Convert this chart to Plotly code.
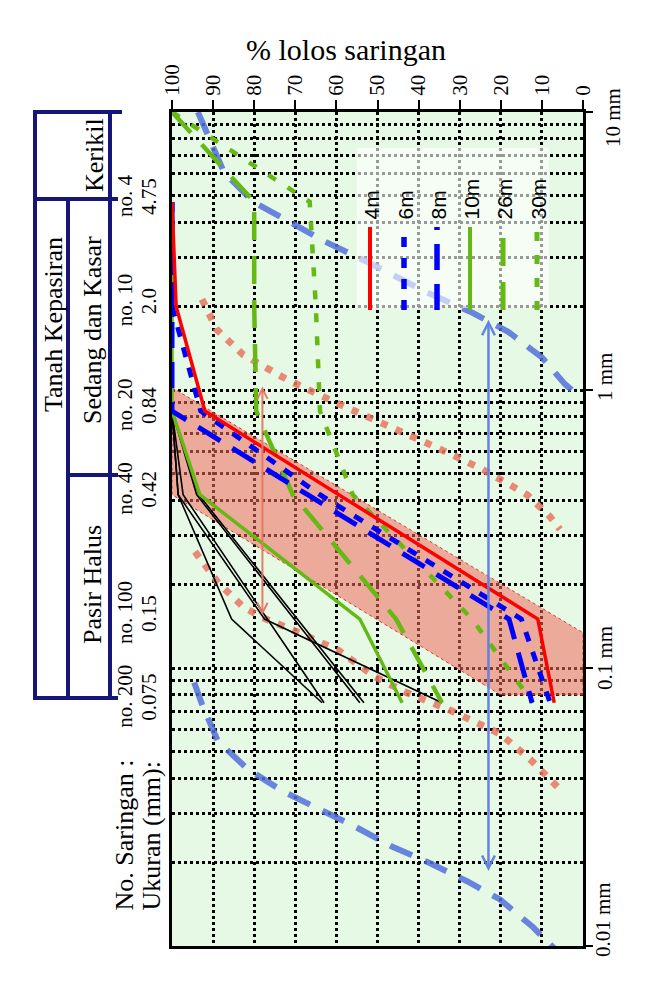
import math
import plotly.graph_objects as go

# ---------------- data ----------------
SIEVE_SIZES = [4.75, 2.0, 0.84, 0.42, 0.15, 0.075]
SIEVE_NUMBERS = ["no. 4", "no. 10", "no. 20", "no. 40", "no. 100", "no. 200"]
SIEVE_SIZE_LABELS = ["4.75", "2.0", "0.84", "0.42", "0.15", "0.075"]

PASS_4M = [100, 99, 92, 59.5, 11, 7]
PASS_6M = [100, 100, 93, 64, 15, 8]
PASS_8M = [100, 100, 100, 67, 18, 12.4]
PASS_10M = [100, 100, 100, 93.2, 54.3, 44]

SIZES_26_30M = [10, 4.75, 2.0, 0.84, 0.42, 0.15, 0.075]
PASS_26M = [100, 80, 80, 79.5, 70.6, 45.5, 34.3]
PASS_30M = [100, 66.5, 65, 64, 56, 27, 12.2]

OTHER_SIZES = [0.84, 0.42, 0.15, 0.075]
OTHER_PASS = [
    [100, 98.5, 85.5, 63.5],
    [100, 98.5, 77.5, 34.3],
    [100, 97.3, 76.8, 63.0],
    [100, 94.0, 70.3, 54.3],
    [100, 93.5, 69.5, 53.3],
]

BAND_SIZES = [1.02, 0.134, 0.08, 0.08, 0.42, 1.02]
BAND_PASS = [100, 0, 0, 20, 100, 100]

LIMIT_A_SIZES = [2.12, 1.65, 1.34, 1.09, 0.91, 0.74, 0.62, 0.52, 0.42, 0.35, 0.315]
LIMIT_A_PASS = [92.7, 89.1, 82.7, 72.0, 60.8, 47.0, 35.5, 24.6, 13.6, 8.0, 5.6]
LIMIT_B_SIZES = [0.262, 0.203, 0.166, 0.152, 0.137, 0.116, 0.093, 0.082, 0.071, 0.058, 0.047, 0.0366]
LIMIT_B_PASS = [94.4, 88.8, 82.7, 78.1, 70.6, 59.6, 50.6, 43.3, 32.8, 20.2, 12.9, 5.6]

ENVELOPE_A_SIZES = [10, 6.05, 4.76, 4.04, 3.42, 3.0, 2.26, 1.90, 1.62, 1.31, 1.05, 0.95]
ENVELOPE_A_PASS = [93.7, 87.3, 80.3, 71.3, 62.8, 54.7, 38.4, 27.0, 18.2, 10.0, 4.4, 1.0]
ENVELOPE_B_SIZES = [0.0887, 0.074, 0.0544, 0.0432, 0.036, 0.0315, 0.0269, 0.0228,
                    0.020, 0.0171, 0.0147, 0.0117, 0.0095]
ENVELOPE_B_PASS = [94.6, 92.7, 88.8, 81.5, 73.0, 64.7, 55.5, 46.5, 37.7, 28.2, 20.2, 12.2, 6.1]

ARROW_BLUE = (23, 1.79, 0.0184)      # % passing, top size, bottom size
ARROW_SALMON = (78, 1.03, 0.153)

PASS_TICKS = list(range(0, 101, 10))
SIZE_TICKS = [0.01, 0.1, 1, 10]
SIZE_TICK_LABELS = ["0.01 mm", "0.1 mm", "1 mm", "10 mm"]
MINOR_SIZE_TICKS = [m * d for d in (0.01, 0.1, 1) for m in range(2, 10)]

LEGEND_NAMES = ["4m", "6m", "8m", "10m", "26m", "30m"]

# ---------------- layout helpers ----------------
W, H = 649, 994
L, R, T, B = 172, 66, 112, 48
PW = W - L - R
PH = H - T - B


def pxx(px):
    return (px - L) / PW


def pxy(py):
    return (H - B - py) / PH


SERIF = "Liberation Serif, Times New Roman, serif"
SANS = "Liberation Sans, Arial, sans-serif"
NAVY = "#15157a"
RED = "#ff0000"
BLUE = "#0000ff"
GREEN = "#66b814"
SALMON = "rgba(232,118,98,0.85)"
LIGHTBLUE = "rgba(82,112,220,0.85)"

STYLE = {
    "4m": dict(color=RED, width=3.5, dash="solid"),
    "6m": dict(color=BLUE, width=5, dash="10px,11px"),
    "8m": dict(color=BLUE, width=5, dash="26px,14px"),
    "10m": dict(color=GREEN, width=3.5, dash="solid"),
    "26m": dict(color=GREEN, width=4.5, dash="28px,16px"),
    "30m": dict(color=GREEN, width=4.5, dash="9px,14px"),
}

fig = go.Figure()

# shaded band
fig.add_trace(go.Scatter(x=BAND_PASS, y=BAND_SIZES, mode="lines", fill="toself",
                         fillcolor="rgba(240,108,92,0.55)",
                         line=dict(color="rgba(215,40,40,0.9)", width=1, dash="dot"),
                         hoverinfo="skip"))

# salmon dotted limits
for xs, ys in ((LIMIT_A_PASS, LIMIT_A_SIZES), (LIMIT_B_PASS, LIMIT_B_SIZES)):
    fig.add_trace(go.Scatter(x=xs, y=ys, mode="lines",
                             line=dict(color=SALMON, width=7, dash="7px,9px")))

# light blue envelopes
for xs, ys in ((ENVELOPE_A_PASS, ENVELOPE_A_SIZES), (ENVELOPE_B_PASS, ENVELOPE_B_SIZES)):
    fig.add_trace(go.Scatter(x=xs, y=ys, mode="lines",
                             line=dict(color=LIGHTBLUE, width=6, dash="24px,14px")))

# black thin lines
for p in OTHER_PASS:
    fig.add_trace(go.Scatter(x=p, y=OTHER_SIZES, mode="lines",
                             line=dict(color="black", width=1.6)))

# main series
SERIES = [
    ("10m", SIEVE_SIZES, PASS_10M),
    ("26m", SIZES_26_30M, PASS_26M),
    ("30m", SIZES_26_30M, PASS_30M),
    ("8m", SIEVE_SIZES, PASS_8M),
    ("6m", SIEVE_SIZES, PASS_6M),
    ("4m", SIEVE_SIZES, PASS_4M),
]
for name, sizes, pas in SERIES:
    fig.add_trace(go.Scatter(x=pas, y=sizes, mode="lines", name=name,
                             line=STYLE[name]))

shapes = []
annotations = []

# legend box + samples
shapes.append(dict(type="rect", xref="paper", yref="paper",
                   x0=pxx(357), x1=pxx(549), y0=pxy(308), y1=pxy(148),
                   fillcolor="rgba(255,255,255,0.6)", line=dict(width=0), layer="above"))
LEG_X = [370, 404, 437, 470, 503, 537]
for name, lx in zip(LEGEND_NAMES, LEG_X):
    st = STYLE[name]
    shapes.append(dict(type="line", xref="paper", yref="paper",
                       x0=pxx(lx), x1=pxx(lx), y0=pxy(310), y1=pxy(227),
                       line=dict(color=st["color"], width=st["width"] + 0.5, dash=st["dash"]),
                       layer="above"))
    annotations.append(dict(text=name, xref="paper", yref="paper", x=pxx(lx + 1), y=pxy(222),
                            xanchor="center", yanchor="bottom", textangle=-90, showarrow=False,
                            font=dict(family=SANS, size=21, color="black")))

# arrows
for (px_, top, bot), col, wd in ((ARROW_BLUE, "rgba(95,125,225,0.95)", 2.5),
                                 (ARROW_SALMON, "rgba(232,118,98,0.95)", 2)):
    annotations.append(dict(x=px_, y=math.log10(top), ax=px_, ay=math.log10(bot),
                            xref="x", yref="y", axref="x", ayref="y", text="",
                            showarrow=True, arrowside="end+start", arrowhead=5,
                            startarrowhead=5, arrowsize=1, startarrowsize=1,
                            arrowwidth=wd, arrowcolor=col))

# table on the left
def hline(x0, x1, y):
    shapes.append(dict(type="line", xref="paper", yref="paper", x0=pxx(x0), x1=pxx(x1),
                       y0=pxy(y), y1=pxy(y), line=dict(color=NAVY, width=4)))


def vline(x, y0, y1):
    shapes.append(dict(type="line", xref="paper", yref="paper", x0=pxx(x), x1=pxx(x),
                       y0=pxy(y0), y1=pxy(y1), line=dict(color=NAVY, width=4)))


hline(33, 122, 112)
vline(35, 110, 700)
vline(110, 110, 700)
hline(35, 118, 199)
vline(68, 199, 700)
hline(68, 118, 475)
hline(33, 118, 698)


def rtext(text, x, y, size, yanchor="middle", family=SERIF):
    annotations.append(dict(text=text, xref="paper", yref="paper", x=pxx(x), y=pxy(y),
                            xanchor="center", yanchor=yanchor, textangle=-90,
                            showarrow=False, font=dict(family=family, size=size, color="black")))


rtext("Kerikil", 94, 155, 26)
rtext("Tanah Kepasiran", 53, 325, 26)
rtext("Sedang dan Kasar", 92, 330, 26)
rtext("Pasir Halus", 92, 585, 26)
rtext("No. Saringan :", 124, 913, 26, yanchor="bottom")
rtext("Ukuran (mm):", 151, 913, 26, yanchor="bottom")

for num, lab, s in zip(SIEVE_NUMBERS, SIEVE_SIZE_LABELS, SIEVE_SIZES):
    annotations.append(dict(text=num, xref="paper", yref="y", x=pxx(125), y=math.log10(s),
                            yshift=6, xanchor="center", yanchor="middle", textangle=-90,
                            showarrow=False, font=dict(family=SERIF, size=21, color="black")))
    annotations.append(dict(text=lab, xref="paper", yref="y", x=pxx(149), y=math.log10(s),
                            yshift=5, xanchor="center", yanchor="middle", textangle=-90,
                            showarrow=False, font=dict(family=SERIF, size=21, color="black")))

# size axis labels (right)
SIZE_LABEL_POS = {"10 mm": (613, 118), "1 mm": (605, 377), "0.1 mm": (605, 658), "0.01 mm": (603, 920)}
for lab in SIZE_TICK_LABELS:
    lx, ly = SIZE_LABEL_POS[lab]
    rtext(lab, lx, ly, 21)

# title
annotations.append(dict(text="% lolos saringan", xref="paper", yref="paper", x=pxx(346), y=pxy(49),
                        xanchor="center", yanchor="middle", showarrow=False,
                        font=dict(family=SERIF, size=30, color="black")))

fig.update_layout(
    width=W, height=H,
    margin=dict(l=L, r=R, t=T, b=B, pad=0),
    paper_bgcolor="white",
    plot_bgcolor="#e6f9e4",
    showlegend=False,
    shapes=shapes,
    annotations=annotations,
    xaxis=dict(range=[100, 0], side="top", tickmode="array", tickvals=PASS_TICKS,
               ticktext=[str(v) for v in PASS_TICKS], tickangle=-90,
               tickfont=dict(family=SERIF, size=21, color="black"),
               ticks="outside", ticklen=9, tickwidth=2, tickcolor="black",
               showgrid=True, gridcolor="black", griddash="dot", gridwidth=2.5,
               showline=True, linecolor="black", linewidth=3, mirror=True, zeroline=False),
    yaxis=dict(type="log", range=[-2, 1], side="right", tickmode="array", tickvals=SIZE_TICKS,
               showticklabels=False, ticks="outside", ticklen=7, tickwidth=1.5, tickcolor="black",
               showgrid=True, gridcolor="black", griddash="dot", gridwidth=2.5,
               minor=dict(tickmode="array", tickvals=MINOR_SIZE_TICKS, showgrid=True,
                          gridcolor="black", griddash="dot", gridwidth=2.5, ticks=""),
               showline=True, linecolor="black", linewidth=3, mirror=True, zeroline=False),
)

fig.write_html("out.html")
